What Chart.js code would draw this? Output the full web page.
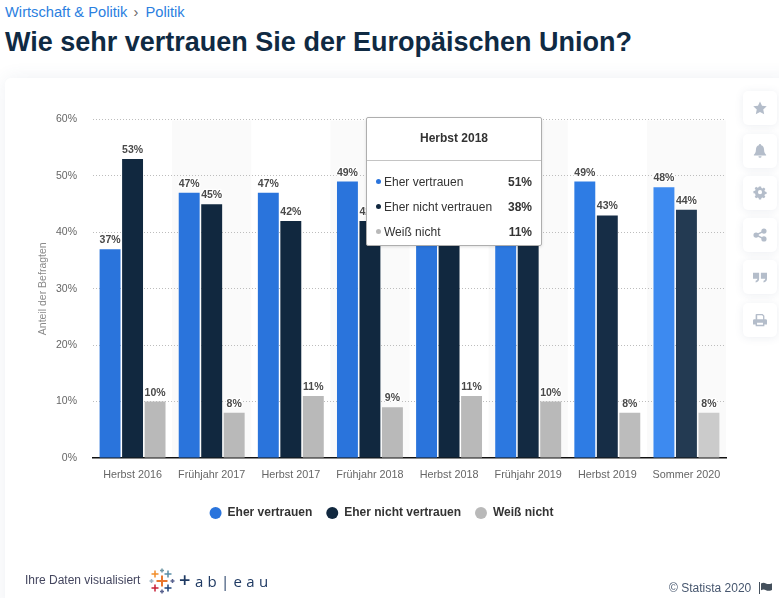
<!DOCTYPE html>
<html lang="de">
<head>
<meta charset="utf-8">
<title>Wie sehr vertrauen Sie der Europäischen Union?</title>
<script src="https://cdn.jsdelivr.net/npm/chart.js@4"></script>
<style>
html, body { margin: 0; padding: 0; background: #fff; overflow: hidden; }
body { width: 779px; height: 598px; position: relative; font-family: "Liberation Sans", Arial, sans-serif; }
.abs { position: absolute; white-space: nowrap; }
#crumbs { left: 5px; top: 3px; font-size: 14.7px; line-height: 18px; color: #2b80e0; }
#crumbs .sep { color: #666; margin: 0 3px 0 2px; }
#headline { left: 5px; top: 25px; font-size: 27px; line-height: 34px; font-weight: bold; color: #0f2a43; }
#card { left: 5px; top: 78px; width: 790px; height: 540px; background: #fff; border-radius: 6px; box-shadow: 0 0 18px rgba(70,90,130,.09); }
#chart { position: absolute; left: 0; top: 0; }
.side { position: absolute; left: 743px; width: 34px; height: 34px; background: #fff; border-radius: 5px; box-shadow: 0 1px 9px rgba(70,90,130,.10); }
.side svg { position: absolute; left: 10px; top: 10px; width: 14px; height: 14px; fill: #b4bdca; }
#tip { left: 366px; top: 117px; width: 174px; height: 127px; background: #fff; border: 1px solid #aeaeae; border-radius: 2px; box-shadow: 0 1px 3px rgba(0,0,0,.12); color: #333; font-size: 12px; }
#tipTitle { position: absolute; left: 0; right: 0; top: 13px; text-align: center; font-weight: bold; line-height: 15px; }
#tipLine { position: absolute; left: 0; right: 0; top: 42px; height: 1px; background: #c4c4c4; }
.row { position: absolute; left: 0; right: 0; line-height: 15px; }
.row i { position: absolute; left: 9px; top: 4px; width: 5px; height: 5px; border-radius: 50%; }
.row span { position: absolute; left: 17px; }
.row b { position: absolute; right: 9px; }
#madeby { left: 25px; top: 573px; font-size: 12px; line-height: 15px; color: #44465f; }
#logo { left: 149px; top: 568px; width: 26px; height: 26px; }
#wordmark { left: 179px; top: 570px; font-family: "Open Sans", sans-serif; font-size: 15px; line-height: 20px; letter-spacing: 4.3px; color: #1f3a63; }
#wordmark em { font-style: normal; font-size: 20px; font-weight: 600; line-height: 20px; letter-spacing: 4.500px; }
#copy { left: 669px; top: 581px; font-size: 12px; line-height: 15px; color: #46566e; }
#flag { left: 759px; top: 582px; width: 13px; height: 12px; fill: #44505c; }
</style>
</head>
<body>
<div class="abs" id="crumbs">Wirtschaft &amp; Politik <span class="sep">›</span> Politik</div>
<div class="abs" id="headline">Wie sehr vertrauen Sie der Europäischen Union?</div>
<div class="abs" id="card"></div>
<canvas id="chart" width="779" height="598"></canvas>

<div class="side" style="top:91px"><svg viewBox="0 0 16 16"><path d="M8 .5l2.3 5 5.4.6-4 3.7 1.1 5.4L8 12.5l-4.800 2.700 1.100-5.400-4-3.700 5.400-.6z"/></svg></div>
<div class="side" style="top:134px"><svg viewBox="0 0 16 16"><path d="M8 0a1.300 1.300 0 0 1 1.300 1.400C11.500 2 12.600 3.800 12.600 6c0 4 1.400 5.200 2.400 6.200v1H1v-1C2 11.200 3.400 10 3.400 6c0-2.200 1.100-4 3.300-4.600A1.300 1.300 0 0 1 8 0zM6.200 14h3.600a1.800 1.800 0 0 1-3.600 0z"/></svg></div>
<div class="side" style="top:176px"><svg viewBox="0 0 16 16"><path fill-rule="evenodd" d="M6.700 1h2.600l.4 2 1.300.6 1.700-1.100 1.800 1.800-1.100 1.700.6 1.300 2 .4v2.600l-2 .4-.6 1.300 1.100 1.700-1.800 1.800-1.700-1.100-1.300.6-.4 2H6.700l-.4-2-1.300-.6-1.700 1.100-1.800-1.800 1.100-1.700L2 9.700l-2-.4V6.700l2-.4.6-1.300-1.100-1.700 1.800-1.800L5 2.600 6.300 2zM8 5.500a2.500 2.500 0 1 0 0 5 2.500 2.500 0 0 0 0-5z" transform="translate(.5 -.5) scale(.94)"/></svg></div>
<div class="side" style="top:218px"><svg viewBox="0 0 16 16"><circle cx="3.500" cy="8" r="3"/><circle cx="12.500" cy="3.500" r="3"/><circle cx="12.500" cy="12.500" r="3"/><path d="M3.500 8l9-4.500M3.500 8l9 4.500" stroke="#b4bdca" stroke-width="1.600"/></svg></div>
<div class="side" style="top:260px"><svg viewBox="0 0 16 16"><path d="M0 3h7v7c0 2.500-1.500 4-4 4.200v-2C4.200 12 5 11.300 5 10H0zM9 3h7v7c0 2.500-1.500 4-4 4.200v-2c1.200-.2 2-.9 2-2.200H9z"/></svg></div>
<div class="side" style="top:303px"><svg viewBox="0 0 16 16"><path fill-rule="evenodd" d="M4 1h7l2 2v4h1.500A1.500 1.500 0 0 1 16 8.500V13h-3v2H3v-2H0V8.500A1.500 1.500 0 0 1 1.500 7H3V2a1 1 0 0 1 1-1zm.8 1.500V7h6.700V3.600L10.400 2.500zM4.600 11v2.500h6.800V11z"/></svg></div>

<div class="abs" id="tip">
  <div id="tipTitle"></div>
  <div id="tipLine"></div>
  <div id="tipRows"></div>
</div>

<div class="abs" id="madeby">Ihre Daten visualisiert</div>
<svg class="abs" id="logo" viewBox="0 0 26 26" fill="none" stroke-width="1.500">
  <path d="M13 7.500v11M7.500 13h11" stroke="#e8762d" stroke-width="2"/>
  <path d="M6 2.500v7M2.500 6h7" stroke="#f28e2b"/>
  <path d="M19 2.500v7M15.500 6h7" stroke="#5a8fa8"/>
  <path d="M6 16.500v7M2.500 20h7" stroke="#c72037"/>
  <path d="M19 16.500v7M15.500 20h7" stroke="#1f447a"/>
  <path d="M13 .5v4M11 2.500h4" stroke="#7099a6"/>
  <path d="M13 21.500v4M11 23.500h4" stroke="#59628f"/>
  <path d="M2.500 11v4M.5 13h4" stroke="#9bb5c4"/>
  <path d="M23.500 11v4M21.500 13h4" stroke="#59628f"/>
</svg>
<div class="abs" id="wordmark"><em>+</em>ab|eau</div>
<div class="abs" id="copy">© Statista 2020</div>
<svg class="abs" id="flag" viewBox="0 0 13 12"><path d="M0 0h1v12H0zM2 1.500c2-1.200 3.500-.8 5 0s3 .8 6-.3V8c-3 1.200-4.500 1-6 .2s-3-1.100-5 0z"/></svg>

<script>
const categories = ['Herbst 2016', 'Frühjahr 2017', 'Herbst 2017', 'Frühjahr 2018', 'Herbst 2018', 'Frühjahr 2019', 'Herbst 2019', 'Sommer 2020'];
const eherVertrauen = [37, 47, 47, 49, 51, 48, 49, 48];
const eherNichtVertrauen = [53, 45, 42, 42, 38, 42, 43, 44];
const weissNicht = [10, 8, 11, 9, 11, 10, 8, 8];
const yTicks = [0, 10, 20, 30, 40, 50, 60];

// letzte Kategorien sind im Original etwas heller (Hover)
const blueColors = ['#2a74dc', '#2a74dc', '#2a74dc', '#2a74dc', '#2a74dc', '#2c78e0', '#2e7ce4', '#3d8af0'];
const navyColors = ['#11283f', '#11283f', '#11283f', '#11283f', '#11283f', '#132a42', '#162d46', '#233a52'];
const greyColors = ['#b9b9b9', '#b9b9b9', '#b9b9b9', '#b9b9b9', '#b9b9b9', '#b9b9b9', '#bcbcbc', '#cbcbcb'];

const tipIndex = 4;

// Streifen hinter jeder zweiten Kategorie
const bandPlugin = {
    id: 'bands',
    beforeDraw(chart) {
        const { ctx, scales: { x, y } } = chart;
        const w = x.getPixelForValue(1) - x.getPixelForValue(0);
        ctx.save();
        ctx.fillStyle = '#fafafa';
        categories.forEach((c, i) => {
            if (i % 2 === 1) ctx.fillRect(x.getPixelForValue(i) - w / 2, y.top + 1, w, y.bottom - y.top - 1);
        });
        ctx.restore();
    }
};

// Prozentwerte ueber den Balken, mit weisser Kontur
const valueLabelPlugin = {
    id: 'valueLabels',
    afterDatasetsDraw(chart) {
        const { ctx } = chart;
        ctx.save();
        ctx.font = 'bold 10.5px "Liberation Sans", Arial, sans-serif';
        ctx.textAlign = 'center';
        ctx.textBaseline = 'alphabetic';
        ctx.lineJoin = 'round';
        chart.data.datasets.forEach((ds, d) => {
            chart.getDatasetMeta(d).data.forEach((bar, i) => {
                const text = ds.data[i] + '%';
                ctx.strokeStyle = '#fff';
                ctx.lineWidth = 2.5;
                ctx.strokeText(text, bar.x, bar.y - 6);
                ctx.fillStyle = '#4a4a4a';
                ctx.fillText(text, bar.x, bar.y - 6);
            });
        });
        ctx.restore();
    }
};

const chartCtx = document.getElementById('chart').getContext('2d');
const trustChart = new Chart(chartCtx, {
    type: 'bar',
    data: {
        labels: categories,
        datasets: [
            { label: 'Eher vertrauen', data: eherVertrauen, backgroundColor: blueColors },
            { label: 'Eher nicht vertrauen', data: eherNichtVertrauen, backgroundColor: navyColors },
            { label: 'Weiß nicht', data: weissNicht, backgroundColor: greyColors }
        ]
    },
    options: {
        responsive: false,
        animation: false,
        events: [],
        categoryPercentage: 0.853,
        barPercentage: 0.93,
        layout: { padding: { top: 119.5, left: 37, right: 53, bottom: 69 } },
        font: { family: '"Liberation Sans", Arial, sans-serif' },
        plugins: {
            tooltip: { enabled: false },
            legend: {
                position: 'bottom',
                labels: {
                    usePointStyle: true,
                    pointStyle: 'circle',
                    pointStyleWidth: 12,
                    boxHeight: 8.5,
                    padding: 14,
                    color: '#333',
                    font: { size: 12, weight: 'bold', family: '"Liberation Sans", Arial, sans-serif' },
                    generateLabels(chart) {
                        return chart.data.datasets.map((ds, i) => ({
                            text: ds.label,
                            fillStyle: ds.backgroundColor[0],
                            strokeStyle: ds.backgroundColor[0],
                            lineWidth: 0,
                            pointStyle: 'circle',
                            fontColor: '#333',
                            datasetIndex: i
                        }));
                    }
                }
            }
        },
        scales: {
            x: {
                afterFit(scale) { scale.height = 35; },
                grid: { display: false },
                border: { display: true, color: '#111', width: 1.5 },
                ticks: {
                    padding: 3,
                    maxRotation: 0,
                    autoSkip: false,
                    color: '#666',
                    font: { size: 10.8, family: '"Liberation Sans", Arial, sans-serif' }
                }
            },
            y: {
                min: 0,
                max: 60,
                afterFit(scale) { scale.width = 56; },
                afterBuildTicks(scale) { scale.ticks = yTicks.map(v => ({ value: v })); },
                grid: { color: ctx => ctx.tick.value === 0 ? 'transparent' : '#bdbdbd', lineWidth: 1, drawTicks: false },
                border: { display: false, dash: [1, 2] },
                title: {
                    display: true,
                    text: 'Anteil der Befragten',
                    color: '#8a8a8a',
                    padding: { top: 0, bottom: 0 },
                    font: { size: 10.5, family: '"Liberation Sans", Arial, sans-serif' }
                },
                ticks: {
                    padding: 16,
                    color: '#666',
                    font: { size: 10.5, family: '"Liberation Sans", Arial, sans-serif' },
                    callback: v => v + '%'
                }
            }
        }
    },
    plugins: [bandPlugin, valueLabelPlugin]
});

// Tooltip-Kasten aus denselben Arrays
document.getElementById('tipTitle').textContent = categories[tipIndex];
const tipRows = document.getElementById('tipRows');
trustChart.data.datasets.forEach((ds, i) => {
    const row = document.createElement('div');
    row.className = 'row';
    row.style.top = (57 + i * 25) + 'px';
    const dot = document.createElement('i');
    dot.style.background = ds.backgroundColor[0];
    const name = document.createElement('span');
    name.textContent = ds.label;
    const val = document.createElement('b');
    val.textContent = ds.data[tipIndex] + '%';
    row.append(dot, name, val);
    tipRows.appendChild(row);
});
</script>
</body>
</html>
